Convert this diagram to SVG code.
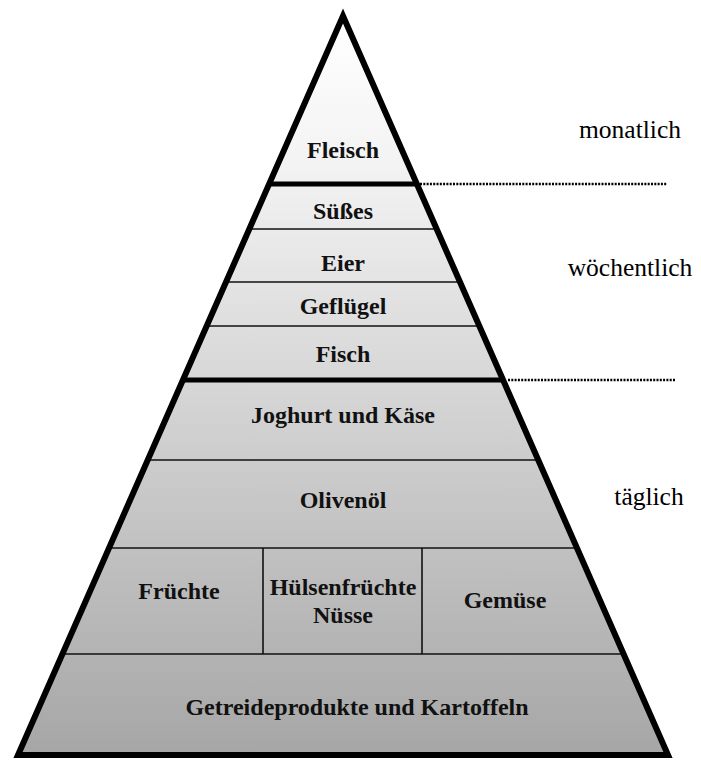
<svg xmlns="http://www.w3.org/2000/svg" width="701" height="760" viewBox="0 0 701 760">
  <defs>
    <linearGradient id="shade" gradientUnits="userSpaceOnUse" x1="0" y1="16" x2="0" y2="755">
      <stop offset="0" stop-color="#ffffff"/>
      <stop offset="0.2" stop-color="#f3f3f3"/>
      <stop offset="1" stop-color="#a6a6a6"/>
    </linearGradient>
    <clipPath id="pyr">
      <polygon points="343,16 18,755 668,755"/>
    </clipPath>
  </defs>
  <style>
    .lbl { font-family: "Liberation Serif", "Times New Roman", serif; font-weight: bold; font-size: 24px; fill: #111; text-anchor: middle; }
    .side { font-family: "Liberation Serif", "Times New Roman", serif; font-size: 25.5px; fill: #000; text-anchor: middle; }
    .thin { stroke: #111; stroke-width: 1.6; fill: none; }
    .thick { stroke: #000; stroke-width: 5; fill: none; }
    .dot { stroke: #000; stroke-width: 2.5; stroke-dasharray: 2 1.3; fill: none; }
  </style>

  <polygon id="pyramid-fill" points="343,16 18,755 668,755" fill="url(#shade)"/>

  <g id="dividers" clip-path="url(#pyr)">
    <line class="thick" x1="0" y1="184" x2="701" y2="184"/>
    <line class="thin" x1="0" y1="229" x2="701" y2="229"/>
    <line class="thin" x1="0" y1="282" x2="701" y2="282"/>
    <line class="thin" x1="0" y1="326" x2="701" y2="326"/>
    <line class="thick" x1="0" y1="380" x2="701" y2="380"/>
    <line class="thin" x1="0" y1="460" x2="701" y2="460"/>
    <line class="thin" x1="0" y1="548" x2="701" y2="548"/>
    <line class="thin" x1="0" y1="654" x2="701" y2="654"/>
    <line class="thin" x1="263" y1="548" x2="263" y2="654"/>
    <line class="thin" x1="422" y1="548" x2="422" y2="654"/>
  </g>

  <polygon id="pyramid-outline" points="343,16 18,755 668,755" fill="none" stroke="#000" stroke-width="6" stroke-linejoin="miter"/>

  <g id="fleisch"><text class="lbl" x="343" y="158">Fleisch</text></g>
  <g id="suesses"><text class="lbl" x="343" y="219">Süßes</text></g>
  <g id="eier"><text class="lbl" x="343" y="271">Eier</text></g>
  <g id="gefluegel"><text class="lbl" x="343" y="314">Geflügel</text></g>
  <g id="fisch"><text class="lbl" x="343" y="362">Fisch</text></g>
  <g id="joghurt"><text class="lbl" x="343" y="423">Joghurt und Käse</text></g>
  <g id="olivenoel"><text class="lbl" x="343" y="508">Olivenöl</text></g>
  <g id="fruechte"><text class="lbl" x="179" y="599">Früchte</text></g>
  <g id="huelsen"><text class="lbl" x="343" y="595">Hülsenfrüchte</text><text class="lbl" x="343" y="623">Nüsse</text></g>
  <g id="gemuese"><text class="lbl" x="505" y="608">Gemüse</text></g>
  <g id="getreide"><text class="lbl" x="357" y="715">Getreideprodukte und Kartoffeln</text></g>

  <g id="freq-monatlich"><text class="side" x="630" y="138">monatlich</text></g>
  <g id="freq-woechentlich"><text class="side" x="630" y="276">wöchentlich</text></g>
  <g id="freq-taeglich"><text class="side" x="649" y="505">täglich</text></g>

  <g id="connectors">
    <line class="dot" x1="420" y1="184" x2="667" y2="184"/>
    <line class="dot" x1="508" y1="380" x2="675" y2="380"/>
  </g>
</svg>
